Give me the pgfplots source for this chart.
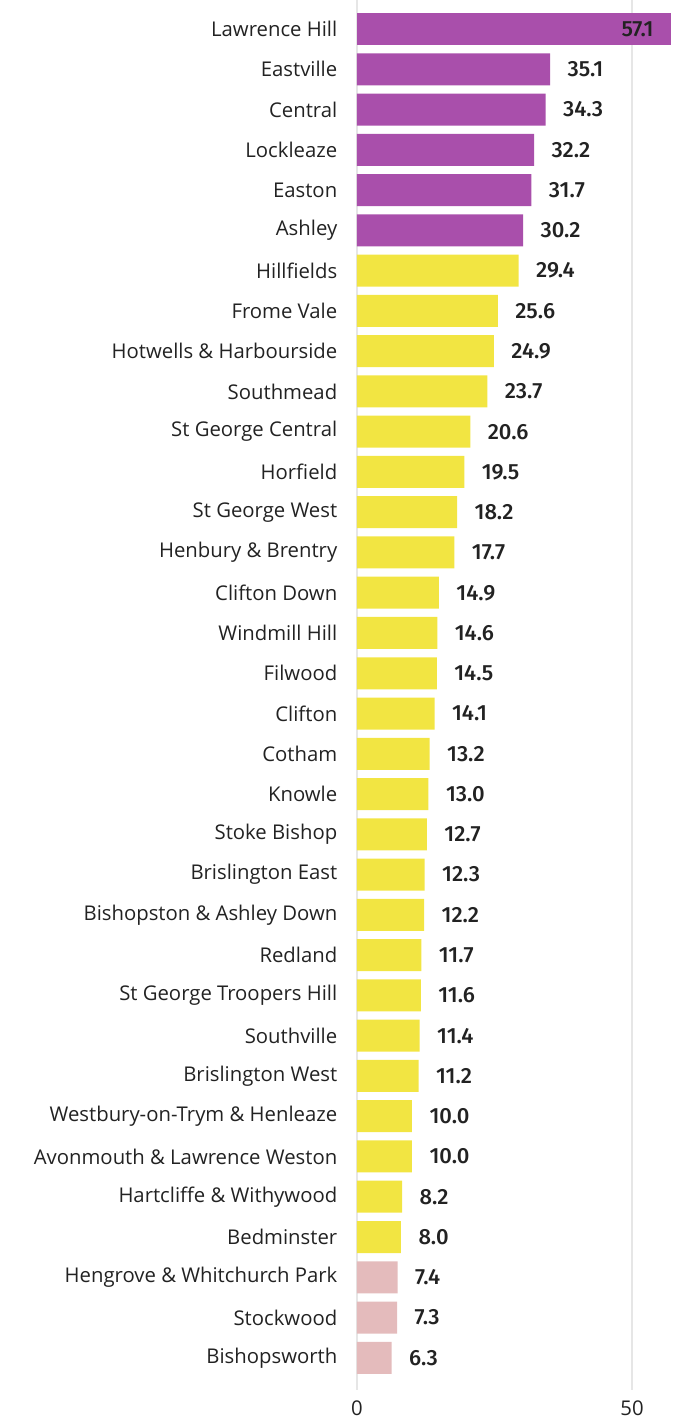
\documentclass[border=0pt]{standalone}
\usepackage{pgfplots}
\pgfplotsset{compat=1.18}
\usepackage{fontspec}
\setmainfont{Open Sans}
\newfontfamily\valfont{Fira Sans}[UprightFont=* Medium]
\definecolor{cpurple}{HTML}{A94FAB}
\definecolor{cyellow}{HTML}{F2E542}
\definecolor{cpink}{HTML}{E4BBBC}
\definecolor{ctext}{HTML}{222222}
\definecolor{cgrid}{HTML}{E6E6E6}
\pgfplotstableread{
y v
0 57.1
}\tA
\pgfplotstableread{
y v
1 35.1
2 34.3
3 32.2
4 31.7
5 30.2
}\tB
\pgfplotstableread{
y v
6 29.4
7 25.6
8 24.9
9 23.7
10 20.6
11 19.5
12 18.2
13 17.7
14 14.9
15 14.6
16 14.5
17 14.1
18 13.2
19 13.0
20 12.7
21 12.3
22 12.2
23 11.7
24 11.6
25 11.4
26 11.2
27 10.0
28 10.0
29 8.2
30 8.0
}\tC
\pgfplotstableread{
y v
31 7.4
32 7.3
33 6.3
}\tD
\begin{document}
\begin{tikzpicture}
\begin{axis}[
  scale only axis,
  width=332bp, height=1390bp,
  xmin=0, xmax=60.36,
  ymin=-0.72, ymax=33.8,
  y dir=reverse,
  xbar, bar shift=0pt, bar width=32bp,
  axis line style={draw=none},
  tick style={draw=none},
  xmajorgrids, grid style={cgrid, line width=1.3bp},
  xtick={0,50},
  ytick={0,...,33},
  yticklabels={Lawrence Hill,Eastville,Central,Lockleaze,Easton,Ashley,Hillfields,Frome Vale,Hotwells \& Harbourside,Southmead,St George Central,Horfield,St George West,Henbury \& Brentry,Clifton Down,Windmill Hill,Filwood,Clifton,Cotham,Knowle,Stoke Bishop,Brislington East,Bishopston \& Ashley Down,Redland,St George Troopers Hill,Southville,Brislington West,Westbury-on-Trym \& Henleaze,Avonmouth \& Lawrence Weston,Hartcliffe \& Withywood,Bedminster,Hengrove \& Whitchurch Park,Stockwood,Bishopsworth},
  yticklabel style={font=\fontsize{20.3bp}{24bp}\selectfont, text=ctext, xshift=-12bp},
  xticklabel style={font=\fontsize{20.3bp}{24bp}\selectfont, text=ctext, yshift=-7bp},
  /pgf/number format/assume math mode=true,
  nodes near coords={\pgfmathprintnumber[fixed,fixed zerofill,precision=1]{\pgfplotspointmeta}},
  point meta=explicit,
  every node near coord/.append style={font=\valfont\fontsize{22bp}{26bp}\selectfont, text=ctext, anchor=west, xshift=14bp},
  clip=false,
]
\addplot[draw=none, fill=cpurple, nodes near coords style={anchor=east, xshift=-28bp}] table[x=v, y=y, meta=v] {\tA};
\addplot[draw=none, fill=cpurple] table[x=v, y=y, meta=v] {\tB};
\addplot[draw=none, fill=cyellow] table[x=v, y=y, meta=v] {\tC};
\addplot[draw=none, fill=cpink] table[x=v, y=y, meta=v] {\tD};
\end{axis}
\pgfresetboundingbox
\path[use as bounding box] ([xshift=-357bp]current axis.north west) rectangle ([yshift=-1418bp]current axis.north east);
\end{tikzpicture}
\end{document}
